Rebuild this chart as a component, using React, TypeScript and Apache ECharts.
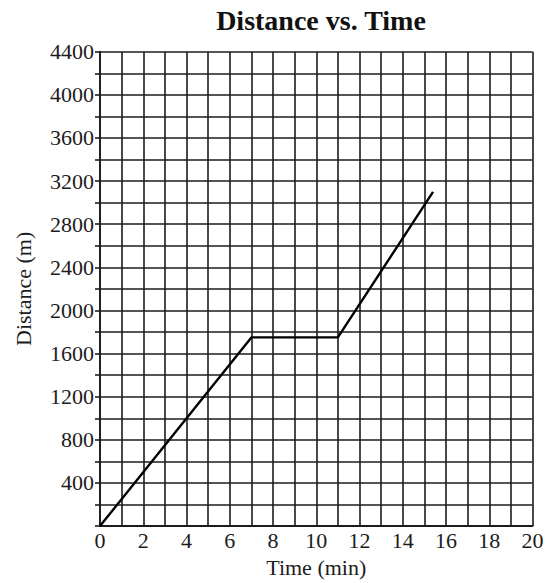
import React, { useEffect, useRef } from "react";
import * as echarts from "echarts";

const titleText = "Distance vs. Time";
const xAxisName = "Time (min)";
const yAxisName = "Distance (m)";
const xMin = 0;
const xMax = 20;
const xStep = 1;
const xLabelEvery = 2;
const yMin = 0;
const yMax = 4400;
const yStep = 200;
const yLabelEvery = 400;
const timeValues = [0, 7, 11, 15.4];
const distanceValues = [0, 1750, 1750, 3100];

const FONT = "'Liberation Serif', 'Times New Roman', serif";
const INK = "#1c1c1c";

export default function App() {
  const ref = useRef<HTMLDivElement>(null);
  useEffect(() => {
    document.body.style.margin = "0";
    if (!ref.current) return;
    const chart = echarts.init(ref.current, undefined, { renderer: "svg" });
    const data = timeValues.map((t, i) => [t, distanceValues[i]]);
    chart.setOption({
      animation: false,
      backgroundColor: "#ffffff",
      title: {
        text: titleText,
        left: 316,
        top: 1,
        textAlign: "center",
        textStyle: { fontFamily: FONT, fontSize: 28, fontWeight: 600, color: "#111" },
      },
      grid: { left: 100, right: 14.5, top: 51.7, bottom: 54.7, containLabel: false },
      xAxis: {
        type: "value",
        min: xMin,
        max: xMax,
        interval: xStep,
        name: xAxisName,
        nameLocation: "middle",
        nameGap: 28,
        nameTextStyle: { fontFamily: FONT, fontSize: 22, color: INK },
        axisLine: { show: true, lineStyle: { color: INK, width: 1.8 } },
        axisTick: { show: false },
        axisLabel: {
          margin: 3,
          fontFamily: FONT,
          fontSize: 22,
          color: INK,
          formatter: (v: number) => (v % xLabelEvery === 0 ? String(v) : ""),
        },
        splitLine: { show: true, lineStyle: { color: INK, width: 1.6 } },
      },
      yAxis: {
        type: "value",
        min: yMin,
        max: yMax,
        interval: yStep,
        name: yAxisName,
        nameLocation: "middle",
        nameGap: 66,
        nameTextStyle: { fontFamily: FONT, fontSize: 22, color: INK },
        axisLine: { show: true, lineStyle: { color: INK, width: 1.8 } },
        axisTick: { show: true, inside: false, length: 5, lineStyle: { color: INK, width: 1.6 } },
        axisLabel: {
          margin: 6,
          fontFamily: FONT,
          fontSize: 22,
          color: INK,
          formatter: (v: number) => (v !== 0 && v % yLabelEvery === 0 ? String(v) : ""),
        },
        splitLine: { show: true, lineStyle: { color: INK, width: 1.6 } },
      },
      series: [
        {
          type: "line",
          data,
          showSymbol: false,
          symbol: "none",
          lineStyle: { color: "#000", width: 2.4 },
          z: 5,
        },
      ],
    });
    return () => chart.dispose();
  }, []);
  return <div ref={ref} style={{ width: 547, height: 583 }} />;
}
